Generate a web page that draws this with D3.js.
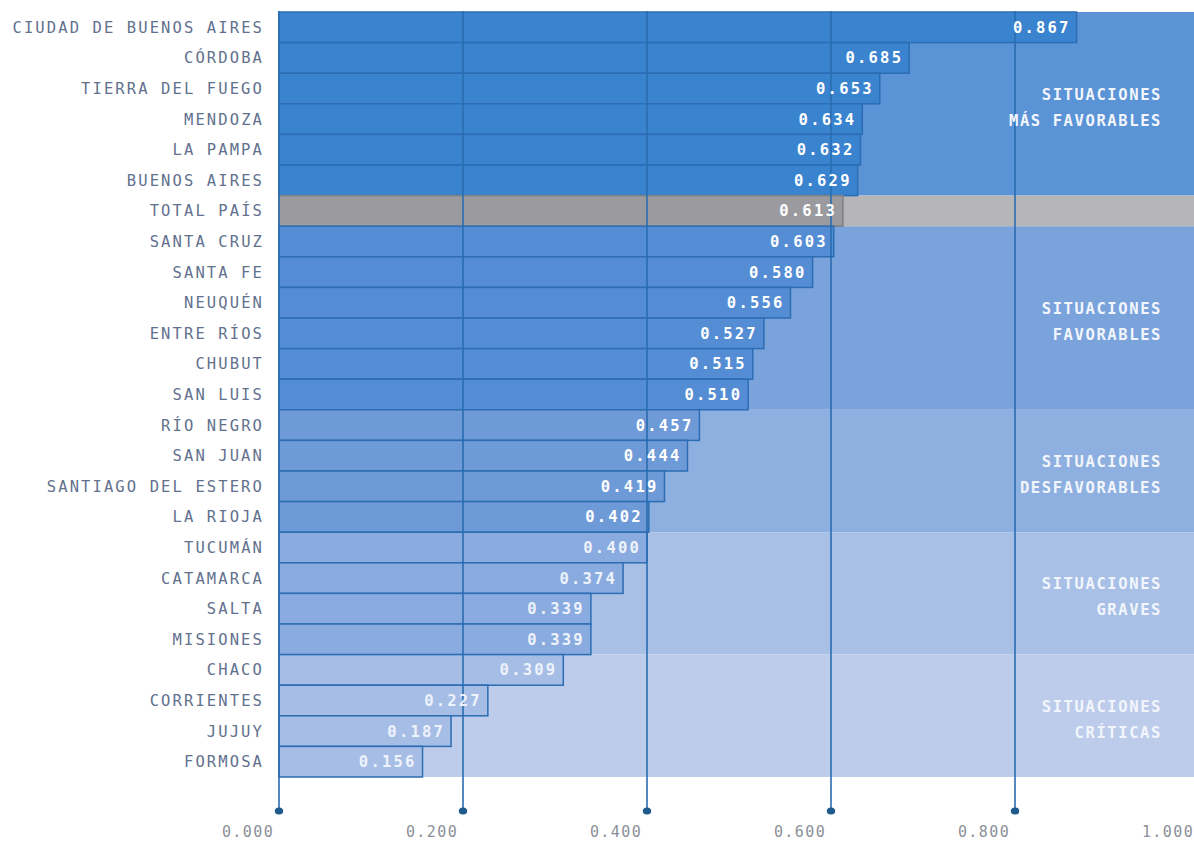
<!DOCTYPE html>
<html lang="es">
<head>
<meta charset="utf-8">
<title>Índice por provincia</title>
<script src="https://cdn.jsdelivr.net/npm/d3@7/dist/d3.min.js"></script>
<style>
  html, body { margin: 0; padding: 0; background: #ffffff; }
  svg { display: block; }
  text { font-family: "DejaVu Sans Mono", "Liberation Mono", monospace; }
</style>
</head>
<body>
<svg id="chart" width="1194" height="849"></svg>
<script>
// Provinces, ordered from the highest to the lowest index
const provincias = [
  "CIUDAD DE BUENOS AIRES", "CÓRDOBA", "TIERRA DEL FUEGO", "MENDOZA", "LA PAMPA",
  "BUENOS AIRES", "TOTAL PAÍS", "SANTA CRUZ", "SANTA FE", "NEUQUÉN", "ENTRE RÍOS",
  "CHUBUT", "SAN LUIS", "RÍO NEGRO", "SAN JUAN", "SANTIAGO DEL ESTERO", "LA RIOJA",
  "TUCUMÁN", "CATAMARCA", "SALTA", "MISIONES", "CHACO", "CORRIENTES", "JUJUY", "FORMOSA"
];
const indices = [
  0.867, 0.685, 0.653, 0.634, 0.632, 0.629, 0.613, 0.603, 0.580, 0.556, 0.527,
  0.515, 0.510, 0.457, 0.444, 0.419, 0.402, 0.400, 0.374, 0.339, 0.339, 0.309,
  0.227, 0.187, 0.156
];

// Situation bands: first and last province of each band
const situacionNombre = ["MÁS FAVORABLES", "FAVORABLES", "DESFAVORABLES", "GRAVES", "CRÍTICAS"];
const situacionDesde  = ["CIUDAD DE BUENOS AIRES", "SANTA CRUZ", "RÍO NEGRO", "TUCUMÁN", "CHACO"];
const situacionHasta  = ["BUENOS AIRES", "SAN LUIS", "LA RIOJA", "MISIONES", "FORMOSA"];
const filaTotal = "TOTAL PAÍS";

// Axis ticks
const marcas = [0, 0.2, 0.4, 0.6, 0.8, 1.0];

// Colours per band (background and bar), plus the national total
const fondoBanda = ["#5a93d6", "#7aa3dc", "#8eb0e0", "#a8c0e6", "#bdcceb"];
const barraBanda = ["#3a83cf", "#548dd4", "#6f9ad8", "#8aabdf", "#a6bde6"];
const fondoTotal = "#b6b6b9";
const barraTotal = "#9a9a9f";
const trazo = "#2c6db3";

const svg = d3.select("#chart");
const W = 1194;

const x = d3.scaleLinear().domain([0, 1]).range([279, 1199]);
const y = d3.scaleBand().domain(provincias).range([12, 777]).padding(0);

const bandaDe = p => {
  const i = provincias.indexOf(p);
  for (let b = 0; b < situacionNombre.length; b++) {
    if (i >= provincias.indexOf(situacionDesde[b]) && i <= provincias.indexOf(situacionHasta[b])) return b;
  }
  return -1;
};

// Band backgrounds
const bandas = situacionNombre.map((n, b) => ({
  nombre: n,
  y0: y(situacionDesde[b]),
  y1: y(situacionHasta[b]) + y.bandwidth(),
  b
}));

svg.append("g").selectAll("rect").data(bandas).join("rect")
  .attr("x", x(0)).attr("y", d => d.y0)
  .attr("width", W - x(0)).attr("height", d => d.y1 - d.y0)
  .attr("fill", d => fondoBanda[d.b]);

svg.append("rect")
  .attr("x", x(0)).attr("y", y(filaTotal))
  .attr("width", W - x(0)).attr("height", y.bandwidth())
  .attr("fill", fondoTotal);

// Bars
const filas = provincias.map((p, i) => ({ p, v: indices[i], b: bandaDe(p) }));

svg.append("g").selectAll("rect").data(filas).join("rect")
  .attr("x", x(0)).attr("y", d => y(d.p))
  .attr("width", d => x(d.v) - x(0)).attr("height", y.bandwidth())
  .attr("fill", d => d.p === filaTotal ? barraTotal : barraBanda[d.b])
  .attr("stroke", d => d.p === filaTotal ? "#7c8088" : trazo)
  .attr("stroke-width", 1.5);

// Vertical grid lines ending on a dot below the panel
const gy0 = 11, gy1 = 811;
const grid = svg.append("g");
grid.selectAll("line").data(marcas).join("line")
  .attr("x1", d => x(d)).attr("x2", d => x(d))
  .attr("y1", gy0).attr("y2", gy1)
  .attr("stroke", "#2a6cb2").attr("stroke-width", 1.6);
grid.selectAll("ellipse").data(marcas).join("ellipse")
  .attr("cx", d => x(d)).attr("cy", gy1).attr("rx", 4.2).attr("ry", 3.6)
  .attr("fill", "#1f5a8c");

// Tick labels
const fmt = d3.format(".3f");
svg.append("g").selectAll("text").data(marcas).join("text")
  .attr("x", d => x(d) - 31).attr("y", 837)
  .attr("text-anchor", "middle")
  .attr("font-size", 15).attr("letter-spacing", 1.4)
  .attr("fill", "#8b9098")
  .text(d => fmt(d));

// Province labels
svg.append("g").selectAll("text").data(filas).join("text")
  .attr("x", 264).attr("y", d => y(d.p) + y.bandwidth() / 2 + 5.5)
  .attr("text-anchor", "end")
  .attr("font-size", 15.5).attr("letter-spacing", 2.1)
  .attr("fill", "#62718e")
  .text(d => d.p);

// Value labels inside each bar
svg.append("g").selectAll("text").data(filas).join("text")
  .attr("x", d => x(d.v) - 6).attr("y", d => y(d.p) + y.bandwidth() / 2 + 5.5)
  .attr("text-anchor", "end")
  .attr("font-size", 15.5).attr("font-weight", "bold").attr("letter-spacing", 2.2)
  .attr("fill", d => d.b >= 3 ? "#eef3fb" : "#ffffff")
  .text(d => fmt(d.v));

// Situation titles on the right side of each band
const etiquetas = svg.append("g");
bandas.forEach(d => {
  const cy = (d.y0 + d.y1) / 2;
  const t = etiquetas.append("text")
    .attr("text-anchor", "end")
    .attr("font-size", 15.5).attr("font-weight", "bold").attr("letter-spacing", 1.6)
    .attr("fill", "#f2f6fc");
  t.append("tspan").attr("x", 1162).attr("y", cy - 4).text("SITUACIONES");
  t.append("tspan").attr("x", 1162).attr("y", cy + 22).text(d.nombre);
});
</script>
</body>
</html>
